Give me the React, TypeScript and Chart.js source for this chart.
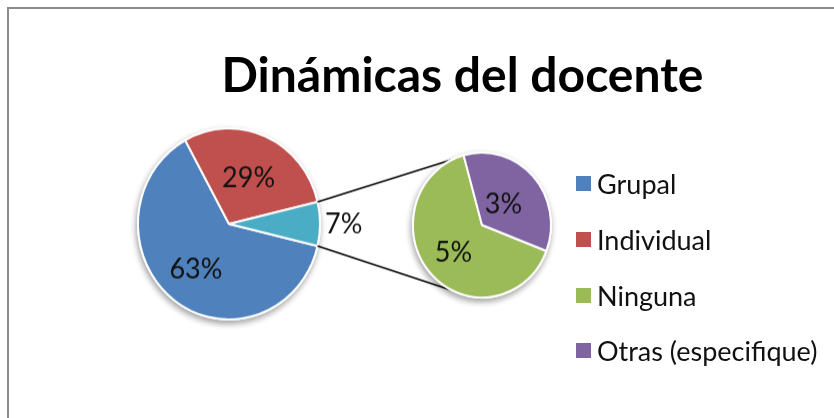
import React, { useEffect, useRef } from "react";
import { Chart, registerables } from "chart.js";

Chart.register(...registerables);

const chartTitle = "Dinámicas del docente";
const mainCategories = ["Grupal", "Individual"];
const mainValues = [63.3, 29.3];
const otherLabel = "Otros";
const secondaryCategories = ["Ninguna", "Otras (especifique)"];
const secondaryValues = [4.8, 2.6];
const mainColors = ["#4F81BD", "#C0504D"];
const otherColor = "#4BACC6";
const secondaryColors = ["#9BBB59", "#8064A2"];

const W = 834;
const H = 418;
const STRETCH_Y = 1.05;
const FONT = "Lato, 'Open Sans', sans-serif";

const sum = (a: number[]) => a.reduce((s, v) => s + v, 0);
const total = sum(mainValues) + sum(secondaryValues);
const pct = (v: number) => Math.round((v / total) * 100) + "%";

const shadowPlugin = {
  id: "pieShadow",
  beforeDatasetsDraw(chart: any) {
    const arc = chart.getDatasetMeta(0).data[0];
    if (!arc) return;
    const { x, y, outerRadius } = arc.getProps(["x", "y", "outerRadius"], true);
    const ctx = chart.ctx;
    ctx.save();
    ctx.shadowColor = "rgba(0,0,0,0.4)";
    ctx.shadowBlur = 6;
    ctx.shadowOffsetX = -1;
    ctx.shadowOffsetY = 3;
    ctx.fillStyle = "#ffffff";
    ctx.beginPath();
    ctx.arc(x, y, outerRadius + 1, 0, Math.PI * 2);
    ctx.fill();
    ctx.restore();
  },
};

const labelPlugin = {
  id: "sliceLabels",
  afterDatasetsDraw(chart: any, _args: any, opts: any) {
    const meta = chart.getDatasetMeta(0);
    const ctx = chart.ctx;
    const values = chart.data.datasets[0].data as number[];
    ctx.save();
    ctx.font = opts.font;
    ctx.fillStyle = "#111";
    ctx.textAlign = "center";
    ctx.textBaseline = "middle";
    meta.data.forEach((el: any, i: number) => {
      const p = el.getProps(["x", "y", "startAngle", "endAngle", "outerRadius"], true);
      const mid = (p.startAngle + p.endAngle) / 2;
      const r = p.outerRadius * opts.fractions[i];
      ctx.fillText(pct(values[i]), p.x + Math.cos(mid) * r, p.y + Math.sin(mid) * r);
    });
    ctx.restore();
  },
};

function padFor(cx: number, cy: number, s: number) {
  return { left: cx - s, right: W - cx - s, top: cy - s, bottom: H - cy - s };
}

export default function App() {
  const mainRef = useRef<HTMLCanvasElement>(null);
  const secRef = useRef<HTMLCanvasElement>(null);

  useEffect(() => {
    const otherValue = sum(secondaryValues);
    const mainChart = new Chart(mainRef.current!, {
      type: "pie",
      data: {
        labels: [...mainCategories, otherLabel],
        datasets: [
          {
            data: [...mainValues, otherValue],
            backgroundColor: [...mainColors, otherColor],
            borderColor: "#ffffff",
            borderWidth: 2,
          },
        ],
      },
      options: {
        responsive: false,
        animation: false,
        rotation: 90 + ((otherValue / total) * 360) / 2,
        radius: 91,
        layout: { padding: padFor(229, 224, 100) },
        plugins: {
          legend: { display: false },
          title: { display: false },
          tooltip: { enabled: false },
          sliceLabels: { font: `27px ${FONT}`, fractions: [0.6, 0.53, 1.26] },
        } as any,
      },
      plugins: [shadowPlugin, labelPlugin],
    });

    const connectorPlugin = {
      id: "connectors",
      beforeDatasetsDraw(chart: any) {
        const mArc = mainChart.getDatasetMeta(0).data[2] as any;
        const sArc = chart.getDatasetMeta(0).data[0];
        if (!mArc || !sArc) return;
        const m = mArc.getProps(["x", "y", "startAngle", "endAngle", "outerRadius"], true);
        const s = sArc.getProps(["x", "y", "outerRadius"], true);
        const ctx = chart.ctx;
        const a1 = (-115 * Math.PI) / 180;
        const a2 = (115 * Math.PI) / 180;
        ctx.save();
        ctx.strokeStyle = "#000000";
        ctx.lineWidth = 1.6;
        ctx.beginPath();
        ctx.moveTo(m.x + Math.cos(m.startAngle) * m.outerRadius, m.y + Math.sin(m.startAngle) * m.outerRadius);
        ctx.lineTo(s.x + Math.cos(a1) * s.outerRadius, s.y + Math.sin(a1) * s.outerRadius);
        ctx.moveTo(m.x + Math.cos(m.endAngle) * m.outerRadius, m.y + Math.sin(m.endAngle) * m.outerRadius);
        ctx.lineTo(s.x + Math.cos(a2) * s.outerRadius, s.y + Math.sin(a2) * s.outerRadius);
        ctx.stroke();
        ctx.restore();
      },
    };

    const secChart = new Chart(secRef.current!, {
      type: "pie",
      data: {
        labels: secondaryCategories,
        datasets: [
          {
            data: secondaryValues,
            backgroundColor: secondaryColors,
            borderColor: "#ffffff",
            borderWidth: 2,
          },
        ],
      },
      options: {
        responsive: false,
        animation: false,
        rotation: 111,
        radius: 69,
        layout: { padding: padFor(482, 225, 90) },
        plugins: {
          legend: { display: false },
          title: { display: false },
          tooltip: { enabled: false },
          sliceLabels: { font: `27px ${FONT}`, fractions: [0.56, 0.42] },
        } as any,
      },
      plugins: [connectorPlugin, shadowPlugin, labelPlugin],
    });

    return () => {
      secChart.destroy();
      mainChart.destroy();
    };
  }, []);

  const legendItems = [
    ...mainCategories.map((c, i) => ({ label: c, color: mainColors[i] })),
    ...secondaryCategories.map((c, i) => ({ label: c, color: secondaryColors[i] })),
  ];
  const legendY = [183, 239, 295, 350];

  return (
    <div
      style={{
        position: "fixed",
        left: 0,
        top: 0,
        width: W,
        height: H,
        overflow: "hidden",
        background: "#fff",
      }}
    >
      <div
        style={{
          position: "absolute",
          left: 7,
          top: 7,
          width: 1000,
          height: 1000,
          border: "2px solid #8c8c8c",
          boxSizing: "border-box",
        }}
      />
      <div
        style={{
          position: "absolute",
          left: 0,
          top: 0,
          width: W,
          height: H,
          transform: `scaleY(${STRETCH_Y})`,
          transformOrigin: "0px 225px",
        }}
      >
        <canvas ref={mainRef} width={W} height={H} style={{ position: "absolute", left: 0, top: 0 }} />
        <canvas ref={secRef} width={W} height={H} style={{ position: "absolute", left: 0, top: 0 }} />
      </div>
      <div
        style={{
          position: "absolute",
          left: 0,
          top: 50,
          width: 925,
          textAlign: "center",
          font: `bold 48px ${FONT}`,
          lineHeight: "1",
          color: "#000",
          whiteSpace: "nowrap",
        }}
      >
        {chartTitle}
      </div>
      {legendItems.map((it, i) => (
        <div
          key={it.label}
          style={{
            position: "absolute",
            left: 576,
            top: legendY[i] - 15,
            height: 30,
            display: "flex",
            alignItems: "center",
            whiteSpace: "nowrap",
          }}
        >
          <span style={{ width: 15, height: 15, background: it.color, display: "inline-block", marginRight: 6 }} />
          <span style={{ font: `27px ${FONT}`, lineHeight: "1", color: "#111" }}>{it.label}</span>
        </div>
      ))}
    </div>
  );
}
